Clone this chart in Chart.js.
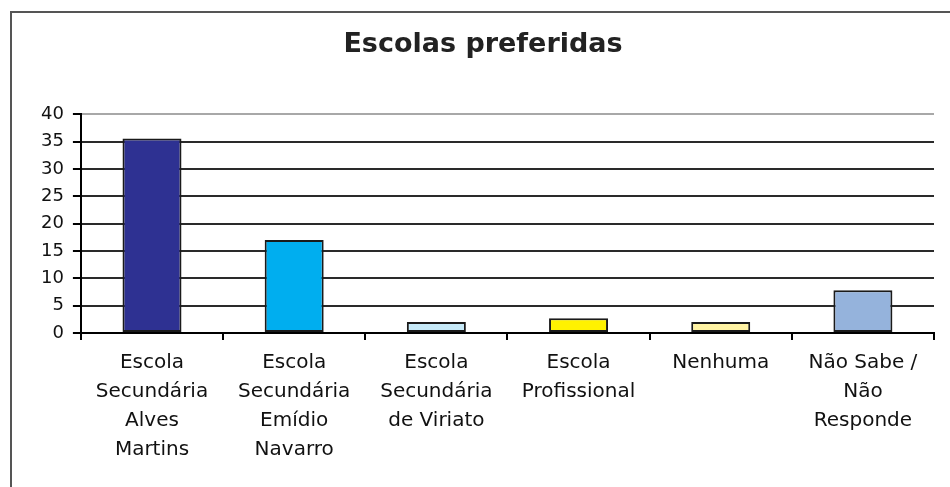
<!DOCTYPE html>
<html>
<head>
<meta charset="utf-8">
<script src="https://cdn.jsdelivr.net/npm/chart.js@4"></script>
<style>
  html, body { margin: 0; padding: 0; background: #fff; overflow: hidden; }
  #wrap { position: relative; width: 950px; height: 487px; }
  #frame { position: absolute; left: 10px; top: 11px; width: 2000px; height: 2000px;
           border-top: 2px solid #555; border-left: 2px solid #555; pointer-events: none; }
</style>
</head>
<body>
<div id="wrap">
  <canvas id="escolasChart" width="950" height="487"></canvas>
  <div id="frame"></div>
</div>
<script>
const titleText = 'Escolas preferidas';
const categories = [
  ['Escola', 'Secundária', 'Alves', 'Martins'],
  ['Escola', 'Secundária', 'Emídio', 'Navarro'],
  ['Escola', 'Secundária', 'de Viriato'],
  ['Escola', 'Profissional'],
  ['Nenhuma'],
  ['Não Sabe /', 'Não', 'Responde'],
];
const values = [35.6, 17, 2, 2.7, 2, 7.8];
const barColors = ['#2e3192', '#00aeef', '#c6e9f8', '#fff200', '#fff3a3', '#95b3dc'];
const yMax = 40;
const yStep = 5;

const FONT = 'DejaVu Sans, Verdana, sans-serif';

new Chart(document.getElementById('escolasChart'), {
  type: 'bar',
  data: {
    labels: categories,
    datasets: [{
      data: values,
      backgroundColor: barColors,
      borderColor: '#1a1a1a',
      borderWidth: 2,
      borderSkipped: false,
      categoryPercentage: 1,
      barPercentage: 0.415,
    }],
  },
  options: {
    responsive: false,
    animation: false,
    layout: { padding: { top: 0, left: 32, right: 16, bottom: 15 } },
    plugins: {
      legend: { display: false },
      tooltip: { enabled: false },
      title: {
        display: true,
        text: titleText,
        color: '#222',
        font: { family: FONT, size: 27, weight: 'bold' },
        padding: { top: 29, bottom: 53 },
      },
    },
    scales: {
      x: {
        grid: {
          offset: true,
          color: ctx => (ctx.index === categories.length ? '#a8a8a8' : 'rgba(0,0,0,0)'),
          tickColor: '#000',
          tickLength: 7,
          lineWidth: 2,
        },
        border: { color: '#000', width: 2 },
        ticks: {
          color: '#111',
          font: { family: FONT, size: 20, lineHeight: 1.45 },
          padding: 8,
          autoSkip: false,
          maxRotation: 0,
        },
      },
      y: {
        min: 0,
        max: yMax,
        grid: {
          color: ctx => (ctx.tick && ctx.tick.value === yMax ? '#a8a8a8' : '#2a2a2a'),
          tickColor: '#000',
          tickLength: 8,
          lineWidth: 2,
        },
        border: { color: '#000', width: 2 },
        ticks: {
          stepSize: yStep,
          color: '#111',
          font: { family: FONT, size: 18 },
          padding: 9,
        },
      },
    },
  },
});
</script>
</body>
</html>
